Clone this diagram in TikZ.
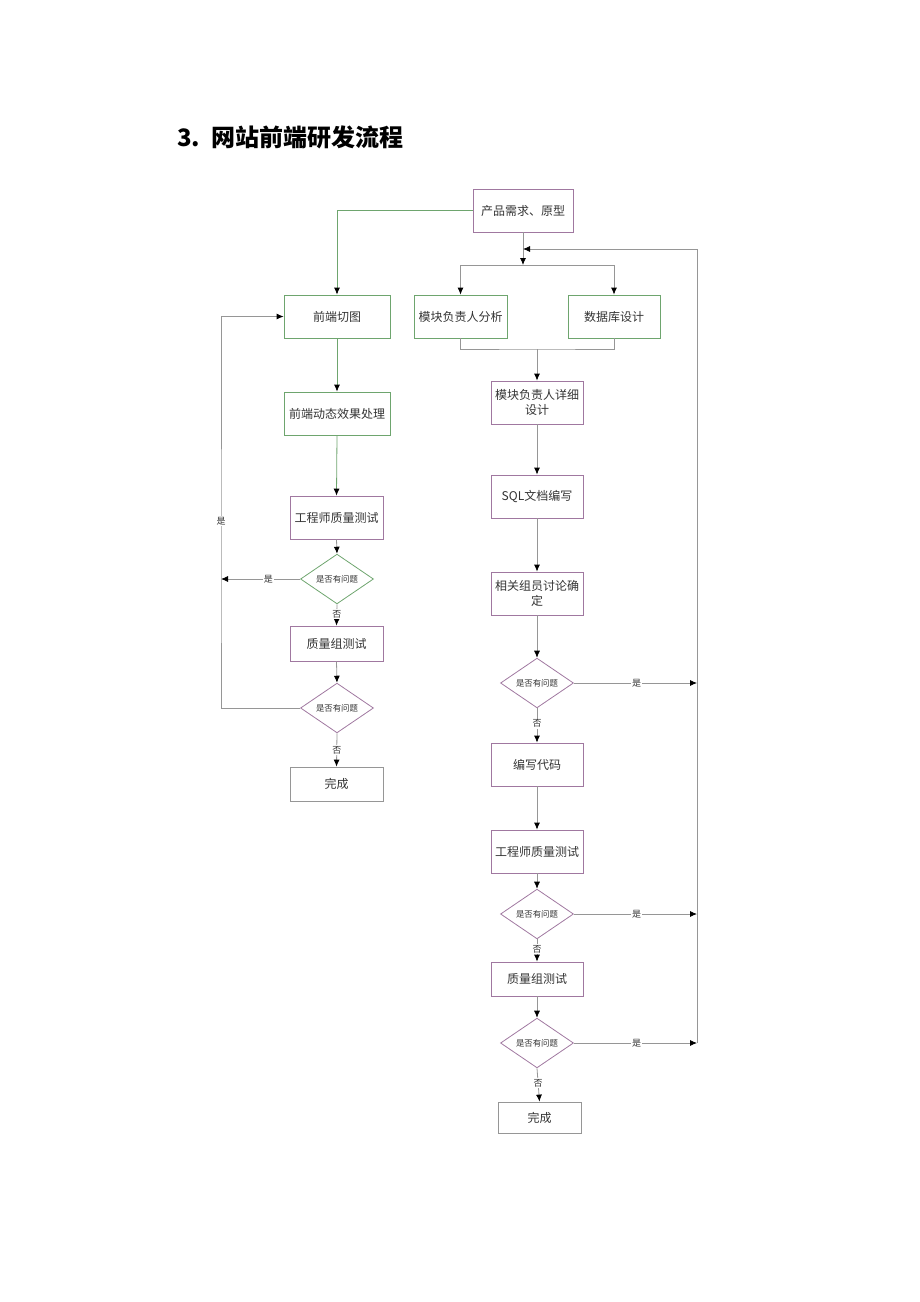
\documentclass[tikz,border=0pt]{standalone}
\usepackage{fontspec}
\newfontfamily\cjk{Noto Sans CJK SC}
\usetikzlibrary{shapes.geometric,arrows.meta}
\definecolor{lp}{RGB}{160,120,160}
\definecolor{lg}{RGB}{110,165,110}
\definecolor{lq}{RGB}{150,150,150}
\begin{document}
\begin{tikzpicture}[x=0.5pt,y=-0.5pt,
  box/.style={draw=lp,line width=0.4pt,inner sep=1pt,align=center,font=\cjk\fontsize{6}{7.8}\selectfont,text=black!80},
  dia/.style={draw=lp,line width=0.4pt,shape=diamond,inner sep=0pt,minimum width=36.5pt,minimum height=21pt,font=\cjk\fontsize{4.2}{5}\selectfont,text=black!80},
  ln/.style={draw=lq,line width=0.4pt},
  arr/.style={ln,-{Latex[length=3.5pt,width=3pt,color=black]}},
  lab/.style={fill=white,inner sep=0.5pt,font=\cjk\fontsize{4.5}{5}\selectfont,text=black!80}]
\useasboundingbox (0,0) rectangle (920,1302);
\node[anchor=west,font=\cjk\bfseries\fontsize{12}{14}\selectfont] (title) at (170,137) {3.\ \ 网站前端研发流程};
% boxes
\node[box,minimum width=50pt,minimum height=21.5pt] (A) at (523,210.5) {产品需求、原型};
\node[box,draw=lg,minimum width=53pt,minimum height=21.5pt] (B) at (337,316.5) {前端切图};
\node[box,draw=lg,minimum width=46.5pt,minimum height=21.5pt] (C) at (460.5,316.5) {模块负责人分析};
\node[box,draw=lg,minimum width=46pt,minimum height=21.5pt] (D) at (614,316.5) {数据库设计};
\node[box,draw=lg,minimum width=53pt,minimum height=21.5pt] (E) at (337,413.5) {前端动态效果处理};
\node[box,minimum width=46.5pt,minimum height=21.5pt] (F) at (336.5,517.5) {工程师质量测试};
\node[dia,draw=lg] (L1) at (337,579) {是否有问题};
\node[box,minimum width=46.5pt,minimum height=17.5pt] (G) at (336.5,643.5) {质量组测试};
\node[dia] (L2) at (337,708) {是否有问题};
\node[box,draw=lq,minimum width=46.5pt,minimum height=17pt] (H) at (336.5,784) {完成};
\node[box,minimum width=46pt,minimum height=21.5pt] (I) at (537,402.5) {模块负责人详细\\设计};
\node[box,minimum width=46pt,minimum height=21.5pt] (J) at (537,496.5) {SQL文档编写};
\node[box,minimum width=46pt,minimum height=21.5pt] (K) at (537,593.5) {相关组员讨论确\\定};
\node[dia] (R1) at (537,683) {是否有问题};
\node[box,minimum width=46pt,minimum height=21.5pt] (L) at (537,764.5) {编写代码};
\node[box,minimum width=46pt,minimum height=21.5pt] (M) at (537,851.5) {工程师质量测试};
\node[dia] (R2) at (537,914) {是否有问题};
\node[box,minimum width=46pt,minimum height=17pt] (N) at (537,979) {质量组测试};
\node[dia] (R3) at (537,1043) {是否有问题};
\node[box,draw=lq,minimum width=41.5pt,minimum height=15.5pt] (O) at (539.5,1117.5) {完成};
% junction coordinates
\coordinate (j1) at (523,265);
\coordinate (j2) at (537,349);
\coordinate (jr) at (697,249);
\coordinate (jl) at (221,579);
% connectors top
\draw[arr,draw=lg] (A.west) -| (B.north);
\draw[arr] (A.south) -- (j1);
\draw[arr] (j1) -| (C.north);
\draw[arr] (j1) -| (D.north);
\draw[ln] (C.south) |- (j2) -| (D.south);
\draw[arr] (j2) -- (I.north);
% left column
\draw[arr,draw=lg] (B.south) -- (E.north);
\draw[arr,draw=lg] (E.south) -- (F.north);
\draw[arr] (F.south) -- (L1.north);
\draw[arr] (L1.west) -- node[lab,pos=0.4]{是} (jl);
\draw[arr] (L1.south) -- node[lab,pos=0.45]{否} (G.north);
\draw[arr] (G.south) -- (L2.north);
\draw[arr] (L2.west) -| (jl) |- (B.west);
\node[lab] (yl) at (221,521) {是};
\draw[arr] (L2.south) -- node[lab,pos=0.5]{否} (H.north);
% right column
\draw[arr] (I.south) -- (J.north);
\draw[arr] (J.south) -- (K.north);
\draw[arr] (K.south) -- (R1.north);
\draw[arr] (R1.south) -- node[lab,pos=0.45]{否} (L.north);
\draw[arr] (L.south) -- (M.north);
\draw[arr] (M.south) -- (R2.north);
\draw[arr] (R2.south) -- node[lab,pos=0.45]{否} (N.north);
\draw[arr] (N.south) -- (R3.north);
\draw[arr] (R3.south) -- node[lab,pos=0.45]{否} (O.north);
% yes branches to right loop
\coordinate (y1) at (697,683);
\coordinate (y2) at (697,914);
\coordinate (y3) at (697,1043);
\draw[arr] (R1.east) -- node[lab,pos=0.51]{是} (y1);
\draw[arr] (R2.east) -- node[lab,pos=0.51]{是} (y2);
\draw[arr] (R3.east) -- node[lab,pos=0.51]{是} (y3);
\draw[ln] (y3) -- (jr);
\draw[arr] (jr) -- (j1 |- jr);
\end{tikzpicture}
\end{document}
